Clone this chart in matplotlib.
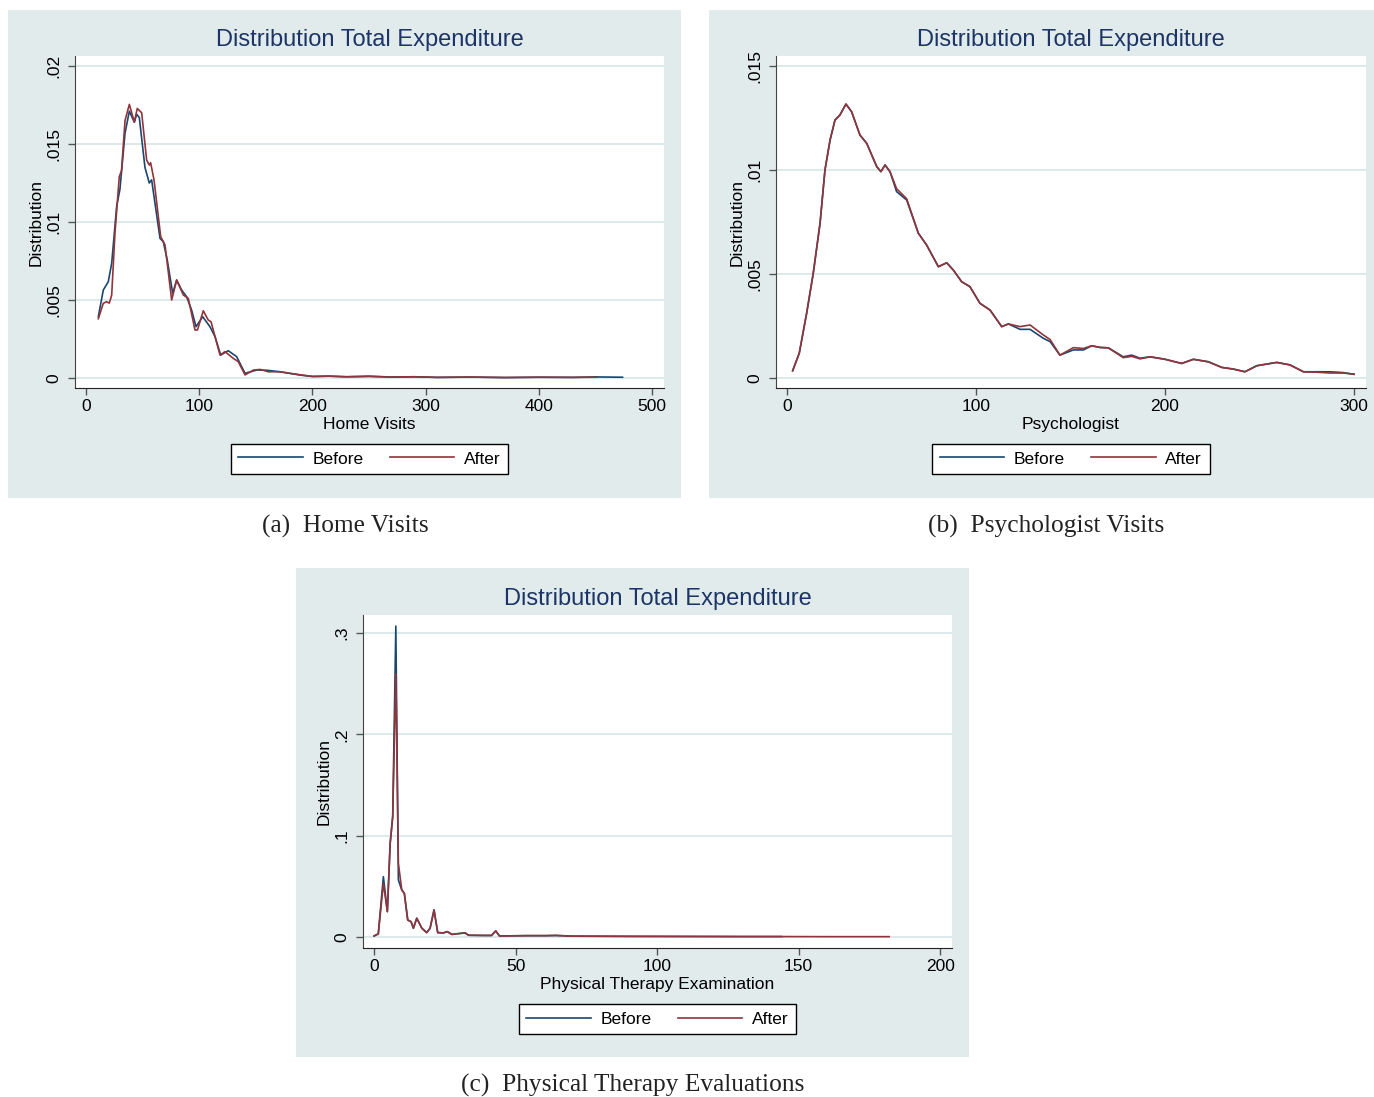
import matplotlib
matplotlib.use("Agg")
import matplotlib.pyplot as plt
from matplotlib.patches import Rectangle

# ── Daten (aus Bild abgelesen) ────────────────────────────────────────────────
# (a) Home Visits
home_x_before = [10.9, 15.3, 19.7, 22.7, 27.1, 30, 34.5, 38.3, 42.7, 44.8, 47.1, 52.1, 55.9, 58,
                 65.4, 68.3, 71.8, 76.6, 80.1, 84.5, 88.9, 93.3, 97.2, 103.1, 109.5, 114, 119,
                 125.7, 133.1, 140.5, 150.8, 159.6, 171.4, 180, 190, 200, 215, 230, 250, 270,
                 290, 310, 340, 370, 400, 430, 450, 474]
home_y_before = [.00393, .00564, .00617, .00735, .0110, .0121, .0157, .0171, .0164, .0169, .0167,
                 .0135, .0125, .0127, .00895, .00874, .00756, .00543, .00628, .00564, .00521,
                 .00436, .00329, .00393, .00329, .00265, .00147, .00175, .00137, .0003, .00051,
                 .0005, .0004, .0003, .00018, .0001, .00012, .00008, .00012, .00006, .00008,
                 .00004, .00006, .00003, .00005, .00004, .00007, .00005]
home_x_after = [10.9, 15.3, 18.2, 20.6, 22.7, 25.6, 29.4, 31.4, 34.5, 38.3, 42.7, 45.3, 49.2, 53.6,
                55.9, 57.1, 60.1, 66, 69.8, 75.7, 80.1, 86, 90.4, 96.3, 98.5, 103.6, 108, 110.5,
                118.4, 122.8, 130.1, 134.5, 140.5, 148, 154, 161, 171.4, 180, 190, 200, 215, 230,
                250, 270, 290, 310, 340, 370, 400, 430, 451]
home_y_after = [.0038, .00479, .00489, .0048, .00531, .00928, .0129, .0133, .0165, .01754, .0164,
                .01728, .0170, .01397, .01365, .0138, .0127, .00906, .00853, .0050, .00628,
                .00532, .0051, .00308, .00308, .00431, .00372, .0036, .00147, .00169, .00126,
                .00105, .0002, .00051, .00055, .0004, .0004, .0003, .0002, .0001, .00012, .00008,
                .0001, .00006, .00008, .00004, .00006, .00003, .00005, .00004, .00005]

# (b) Psychologist
psy_x = [3, 6.5, 10.4, 13.9, 17.5, 20.1, 22.8, 25.4, 28, 31.2, 34.2, 38.6, 42.2, 47.5, 49.7, 51.9,
         54.5, 58, 63.3, 69.5, 73.9, 80.1, 84.5, 88, 92.4, 96.8, 102.1, 107.4, 113.6, 117.1, 123.3,
         128.6, 135.6, 139.2, 144.4, 151.5, 156.8, 161.2, 165.6, 170, 177.9, 182.4, 186.8, 192.1,
         200, 208.8, 215, 222.9, 230, 236.1, 242.3, 248.5, 259.1, 266.1, 273.2, 280.2, 287.3,
         294.3, 300]
psy_y_before = [.00035, .00119, .00311, .00503, .00744, .0100, .01144, .0124, .01264, .01317,
                .0128, .01168, .01128, .01016, .00992, .01024, .00992, .00896, .00856, .00696,
                .00639, .00535, .00554, .00519, .00463, .00439, .00359, .00327, .00247, .0026,
                .00234, .00234, .00191, .00175, .0011, .00135, .00135, .00155, .00147, .00145,
                .00102, .0011, .00095, .00102, .0009, .0007, .0009, .00078, .00051, .00043,
                .0003, .00059, .00075, .00063, .0003, .0003, .0003, .00026, .00018]
psy_y_after = [.00035, .00119, .00311, .00503, .00744, .0100, .01144, .0124, .01264, .01317,
               .0128, .01168, .01128, .01016, .00992, .01024, .00992, .0091, .00862, .00696,
               .00639, .00535, .00554, .00519, .00463, .00439, .00359, .00327, .00247, .0026,
               .00247, .00255, .00207, .00185, .0011, .00146, .00142, .00155, .00147, .00145,
               .00098, .00104, .00092, .00102, .0009, .0007, .0009, .00078, .00051, .00043,
               .0003, .00059, .00075, .00063, .0003, .00028, .00024, .00024, .00018]

# (c) Physical Therapy
pt_x_before = [0, 1.5, 3.3, 4.7, 5.7, 6.6, 7.7, 8.6, 9.8, 10.7, 11.9, 13.1, 13.9, 15.1, 16.9,
               18.6, 19.8, 21.2, 22.5, 24.5, 25.9, 27.5, 29.8, 32.2, 33.4, 38.6, 41.5, 43, 44.3,
               54, 60.5, 64.3, 70, 90, 110, 130, 144]
pt_y_before = [.001, .003, .0595, .025, .0925, .119, .307, .0563, .0464, .0431, .0168, .015,
               .0086, .0185, .0086, .0043, .0086, .0267, .0043, .004, .0053, .0025, .0033, .004,
               .0017, .0015, .0015, .006, .001, .0013, .0013, .0015, .0008, .0006, .0005, .0004,
               .0004]
pt_x_after = [0, 1.5, 3.3, 4.7, 5.7, 6.6, 7.7, 8.6, 9.8, 10.7, 11.9, 13.1, 13.9, 15.1, 16.9,
              18.6, 19.8, 21.2, 22.5, 24.5, 25.9, 27.5, 29.8, 32.2, 33.4, 38.6, 41.5, 43, 44.3,
              54, 60.5, 64.3, 70, 90, 110, 130, 144, 160, 182]
pt_y_after = [.001, .003, .053, .025, .0925, .119, .260, .0727, .0464, .0431, .0168, .015,
              .0086, .0185, .0086, .0043, .0086, .0267, .0043, .004, .0053, .0025, .0033, .004,
              .0017, .0015, .0015, .006, .001, .0013, .0013, .0015, .0008, .0006, .0005, .0004,
              .0004, .0003, .0003]

# ── Stil ─────────────────────────────────────────────────────────────────────
W, H = 1374, 1097
BG = "#E1EBEC"
GRID = "#DCE9EB"
C_BEFORE = "#1A476F"
C_AFTER = "#90353B"
TITLE_C = "#1C3566"
FS = 12.5
plt.rcParams["font.family"] = ["Liberation Sans", "DejaVu Sans"]

fig = plt.figure(figsize=(W / 100, H / 100), dpi=100)
fig.patch.set_facecolor("white")

def fx(px): return px / W
def fy(py): return 1 - py / H

panels = [
    # Hintergrund (l, r, t, b), Achsenbox (l, r, t, b) in Pixel
    dict(bg=(8, 681, 10, 498), box=(75, 664, 56, 388), xlim=(-9.7, 510.6), ylim=(-0.00064, 0.02064),
         xt=[0, 100, 200, 300, 400, 500], yt=[0, .005, .01, .015, .02],
         yl=["0", ".005", ".01", ".015", ".02"], xlabel="Home Visits",
         title_y=40, xlab_top=417, leg_y=459,
         cap="(a)  Home Visits", capx=345, capy=526,
         data=(home_x_before, home_y_before, home_x_after, home_y_after)),
    dict(bg=(709, 1374, 10, 498), box=(776, 1366, 56, 388), xlim=(-5.8, 306.3), ylim=(-0.00048, 0.01548),
         xt=[0, 100, 200, 300], yt=[0, .005, .01, .015],
         yl=["0", ".005", ".01", ".015"], xlabel="Psychologist",
         title_y=40, xlab_top=417, leg_y=459,
         cap="(b)  Psychologist Visits", capx=1046, capy=526,
         data=(psy_x, psy_y_before, psy_x, psy_y_after)),
    dict(bg=(296, 969, 568, 1057), box=(363, 952, 615, 948), xlim=(-3.9, 204.2), ylim=(-0.0109, 0.318),
         xt=[0, 50, 100, 150, 200], yt=[0, .1, .2, .3],
         yl=["0", ".1", ".2", ".3"], xlabel="Physical Therapy Examination",
         title_y=599, xlab_top=977, leg_y=1019,
         cap="(c)  Physical Therapy Evaluations", capx=633, capy=1085,
         data=(pt_x_before, pt_y_before, pt_x_after, pt_y_after)),
]

for p in panels:
    x0, x1, y0, y1 = p["bg"]
    fig.patches.append(Rectangle((fx(x0), fy(y1)), fx(x1) - fx(x0), fy(y0) - fy(y1),
                                 transform=fig.transFigure, facecolor=BG, edgecolor="none", zorder=-5))
    l, r, t, b = p["box"]
    ax = fig.add_axes([fx(l), fy(b), fx(r) - fx(l), fy(t) - fy(b)])
    ax.set_facecolor("white")
    xb, yb, xa, ya = p["data"]
    ax.plot(xb, yb, color=C_BEFORE, lw=1.2, label="Before")
    ax.plot(xa, ya, color=C_AFTER, lw=1.2, label="After")
    ax.set_xlim(*p["xlim"]); ax.set_ylim(*p["ylim"])
    ax.set_xticks(p["xt"])
    ax.set_yticks(p["yt"])
    ax.set_yticklabels(p["yl"], rotation=90, va="center")
    ax.grid(axis="y", color=GRID, lw=1.4)
    ax.set_axisbelow(True)
    for s in ["top", "right"]:
        ax.spines[s].set_visible(False)
    ax.spines["left"].set_color("#444444")
    ax.spines["bottom"].set_color("#222222")
    ax.tick_params(axis="both", labelsize=FS, length=5, width=1, color="#555555", pad=3)
    ax.tick_params(axis="y", pad=5)
    ax.set_xlabel(p["xlabel"], fontsize=FS)
    ax.set_ylabel("Distribution", fontsize=FS)
    ax.xaxis.set_label_coords(0.5, (b - p["xlab_top"]) / (b - t))
    ax.yaxis.set_label_coords((44 - 75) / (r - l), 0.5)
    fig.text(fx((l + r) / 2), fy(p["title_y"]), "Distribution Total Expenditure",
             ha="center", va="center", fontsize=17, color=TITLE_C)
    ax.legend(loc="center", ncol=2, bbox_to_anchor=(fx((l + r) / 2), fy(p["leg_y"])),
              bbox_transform=fig.transFigure, fontsize=FS, frameon=True, fancybox=False,
              edgecolor="black", framealpha=1, handlelength=3.7, handletextpad=0.57,
              columnspacing=1.5, borderpad=0.45).get_frame().set_linewidth(1)
    fig.text(fx(p["capx"]), fy(p["capy"]), p["cap"], ha="center", va="center",
             fontsize=18.3, family="Liberation Serif", color="#222222")

fig.savefig("out.png", dpi=100)
